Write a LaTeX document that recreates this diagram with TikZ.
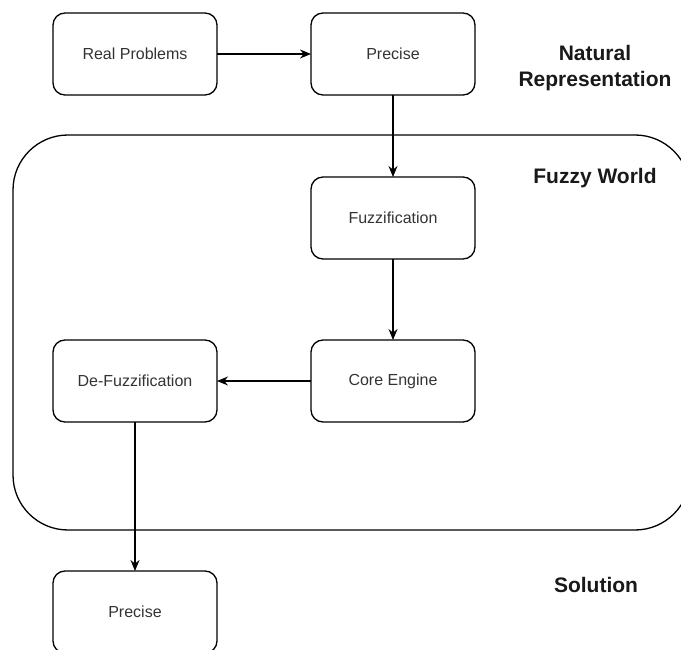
\documentclass[tikz,border=0pt]{standalone}
\usepackage{fontspec}
\setmainfont{Liberation Sans}
\usetikzlibrary{arrows.meta}

\begin{document}
\begin{tikzpicture}[x=1pt,y=-1pt,
  every node/.style={outer sep=0pt},
  box/.style={draw, line width=1.3pt, rounded corners=12pt, minimum width=164pt, minimum height=82pt, text=black!80, font=\fontsize{16}{19}\selectfont},
  lbl/.style={font=\fontsize{21}{26}\selectfont\bfseries, align=center, text=black!90},
  arr/.style={line width=1.3pt, -{Stealth[length=11pt,width=9pt]}}]
\clip (0,0) rectangle (681,650);

% fuzzy world frame
\draw[line width=1.3pt, rounded corners=55pt] (13,135) rectangle (690,530);

\node[box] (real) at (135,54) {Real Problems};
\node[box] (precin) at (393,54) {Precise};
\node[box] (fuzz) at (393,218) {Fuzzification};
\node[box] (core) at (393,381) {Core Engine};
\node[box] (defuzz) at (135,381) {De-Fuzzification};
\node[box] (precout) at (135,612) {Precise};

\node[lbl] (natural) at (595,68) {Natural\\Representation};
\node[lbl] (world) at (595,178) {Fuzzy World};
\node[lbl] (solution) at (596,585) {Solution};

\draw[arr] (real) -- (precin);
\draw[arr] (precin) -- (fuzz);
\draw[arr] (fuzz) -- (core);
\draw[arr] (core) -- (defuzz);
\draw[arr] (defuzz) -- (precout);
\end{tikzpicture}
\end{document}
